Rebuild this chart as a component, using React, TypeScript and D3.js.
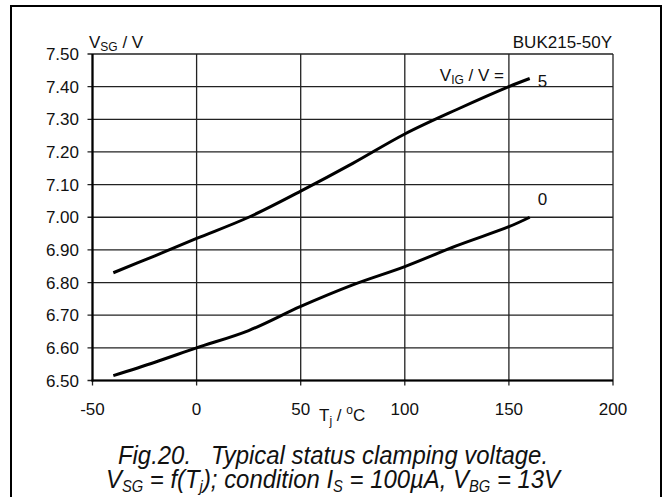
import * as d3 from "d3";

const xTicks = [-50, 0, 50, 100, 150, 200];
const yTicks = [6.5, 6.6, 6.7, 6.8, 6.9, 7.0, 7.1, 7.2, 7.3, 7.4, 7.5];

// V_IG = 5 V
const tj5 = [-40, -20, 0, 25, 50, 75, 100, 125, 150, 160];
const vsg5 = [6.83, 6.882, 6.935, 7.0, 7.08, 7.165, 7.255, 7.33, 7.4, 7.425];

// V_IG = 0 V
const tj0 = [-40, -20, 0, 25, 50, 75, 100, 125, 150, 160];
const vsg0 = [6.515, 6.556, 6.6, 6.653, 6.727, 6.793, 6.849, 6.913, 6.971, 7.0];

const W = 667;
const H = 497;
const margin = { left: 92.5, right: 54, top: 54, bottom: 116.5 };

export default function App() {
    const x = d3.scaleLinear([-50, 200], [margin.left, W - margin.right]);
    const y = d3.scaleLinear([6.5, 7.5], [H - margin.bottom, margin.top]);

    const line = d3
        .line<[number, number]>()
        .x((d) => x(d[0]))
        .y((d) => y(d[1]))
        .curve(d3.curveCatmullRom);

    const pts5 = tj5.map((t, i) => [t, vsg5[i]] as [number, number]);
    const pts0 = tj0.map((t, i) => [t, vsg0[i]] as [number, number]);

    const font = "'Liberation Sans', Arial, sans-serif";
    const x0 = x(-50), x1 = x(200), y0 = y(6.5), y1 = y(7.5);

    return (
        <svg
            width={W}
            height={H}
            style={{ position: "absolute", left: 0, top: 0, background: "#fff" }}
            fontFamily={font}
        >
            {/* outer frame */}
            <rect x={11} y={6} width={650} height={H + 10} fill="none" stroke="#000" strokeWidth={2} />

            {/* grid */}
            {yTicks.map((v) => (
                <line key={"gy" + v} x1={x0 - 5} x2={x1} y1={y(v)} y2={y(v)} stroke="#222" strokeWidth={1.3} />
            ))}
            {xTicks.map((v) => (
                <line key={"gx" + v} x1={x(v)} x2={x(v)} y1={y1} y2={y0 + 5} stroke="#222" strokeWidth={1.3} />
            ))}
            {/* axes */}
            <line x1={x0} x2={x0} y1={y1} y2={y0 + 1} stroke="#000" strokeWidth={2.2} />
            <line x1={x0 - 1} x2={x1} y1={y0} y2={y0} stroke="#000" strokeWidth={2.2} />

            {/* tick labels */}
            {yTicks.map((v) => (
                <text key={"ty" + v} x={79} y={y(v)} dy="0.36em" textAnchor="end" fontSize={17} fill="#111">
                    {v.toFixed(2)}
                </text>
            ))}
            {xTicks.map((v) => (
                <text key={"tx" + v} x={x(v)} y={y0 + 34} textAnchor="middle" fontSize={17} fill="#111">
                    {v}
                </text>
            ))}

            {/* curves */}
            <path d={line(pts5) ?? ""} fill="none" stroke="#000" strokeWidth={3} />
            <path d={line(pts0) ?? ""} fill="none" stroke="#000" strokeWidth={3} />

            {/* labels */}
            <text x={89} y={48} fontSize={17} fill="#111">
                V<tspan fontSize={12} dy={3}>SG</tspan>
                <tspan dy={-3}> / V</tspan>
            </text>
            <text x={612} y={48} textAnchor="end" fontSize={17} fill="#111">BUK215-50Y</text>
            <text x={504} y={81} textAnchor="end" fontSize={17} fill="#111">
                V<tspan fontSize={12} dy={3}>IG</tspan>
                <tspan dy={-3}> / V =</tspan>
            </text>
            <text x={x(160) + 8} y={y(7.425) + 9} fontSize={17} fill="#111">5</text>
            <text x={x(160) + 8} y={y(7.0) - 12} fontSize={17} fill="#111">0</text>
            <text x={319} y={y0 + 40} fontSize={17} fill="#111">
                T<tspan fontSize={12} dy={4}>j</tspan>
                <tspan dy={-4}> / </tspan>
                <tspan fontSize={12} dy={-7}>o</tspan>
                <tspan dy={7}>C</tspan>
            </text>

            {/* caption */}
            <g transform="translate(333,464) scale(0.92,1)">
                <text x={0} y={0} textAnchor="middle" fontSize={26} fontStyle="italic" fill="#111">
                    Fig.20.{"\u00a0\u00a0\u00a0"}Typical status clamping voltage.
                </text>
            </g>
            <g transform="translate(333,488) scale(0.92,1)">
                <text x={0} y={0} textAnchor="middle" fontSize={26} fontStyle="italic" fill="#111">
                    V<tspan fontSize={16} dy={4}>SG</tspan>
                    <tspan dy={-4}> = f(T</tspan>
                    <tspan fontSize={16} dy={4}>j</tspan>
                    <tspan dy={-4}>); condition I</tspan>
                    <tspan fontSize={16} dy={4}>S</tspan>
                    <tspan dy={-4}> = 100µA, V</tspan>
                    <tspan fontSize={16} dy={4}>BG</tspan>
                    <tspan dy={-4}> = 13V</tspan>
                </text>
            </g>
        </svg>
    );
}
